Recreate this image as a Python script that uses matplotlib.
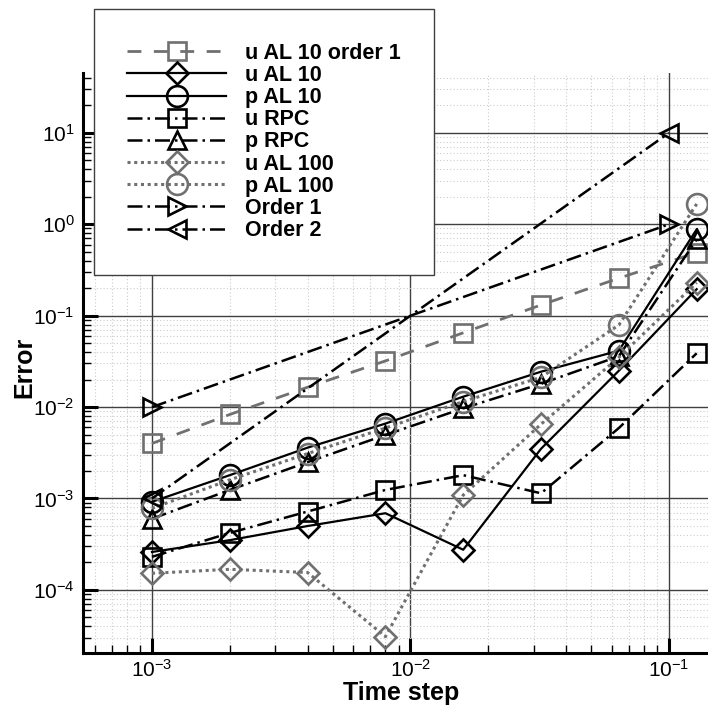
import numpy as np
import matplotlib
matplotlib.use("Agg")
import matplotlib.pyplot as plt
from matplotlib.ticker import LogLocator, NullFormatter

plt.rcParams['font.family'] = ['Liberation Sans', 'DejaVu Sans']
plt.rcParams['mathtext.fontset'] = 'custom'
plt.rcParams['mathtext.rm'] = 'Liberation Sans'
plt.rcParams['mathtext.it'] = 'Liberation Sans:italic'
plt.rcParams['mathtext.bf'] = 'Liberation Sans:bold'
plt.rcParams['mathtext.default'] = 'regular'
plt.rcParams['axes.unicode_minus'] = False

# time steps and error values
dt = [0.001, 0.002, 0.004, 0.008, 0.016, 0.032, 0.064, 0.128]
u_al10_o1 = [4.0e-3, 8.3e-3, 0.0165, 0.032, 0.065, 0.131, 0.257, 0.49]
u_al10 = [2.6e-4, 3.5e-4, 5.0e-4, 6.9e-4, 2.75e-4, 3.5e-3, 0.025, 0.195]
p_al10 = [9.2e-4, 1.8e-3, 3.6e-3, 6.6e-3, 0.013, 0.0244, 0.0414, 0.88]
u_rpc = [2.3e-4, 4.2e-4, 7.2e-4, 1.24e-3, 1.8e-3, 1.14e-3, 5.9e-3, 0.0388]
p_rpc = [6.0e-4, 1.24e-3, 2.5e-3, 4.95e-3, 9.7e-3, 0.018, 0.036, 0.685]
u_al100 = [1.52e-4, 1.68e-4, 1.55e-4, 3.08e-5, 1.09e-3, 6.5e-3, 0.035, 0.23]
p_al100 = [7.8e-4, 1.6e-3, 3.1e-3, 5.9e-3, 0.0115, 0.0212, 0.079, 1.67]
ord_x = [0.001, 0.1]
order1 = [0.01, 1.0]
order2 = [0.001, 10.0]

x_ticks = [1e-3, 1e-2, 1e-1]
y_ticks = [1e-4, 1e-3, 1e-2, 1e-1, 1e0, 1e1]

gray = '#707070'
dashdot = (6, 2, 1, 2)

fig = plt.figure(figsize=(7.08, 7.06), dpi=100)
ax = fig.add_axes([83/708, 1-653/706, 625/708, 580/706])

ax.plot(dt, u_al10_o1, color=gray, lw=2, dashes=(5, 4.5), marker='s', ms=12.5,
        mew=1.9, fillstyle='none', label='u AL 10 order 1')
ax.plot(dt, u_al10, color='k', lw=1.6, ls='-', marker='D', ms=11,
        mew=1.9, fillstyle='none', label='u AL 10')
ax.plot(dt, p_al10, color='k', lw=1.6, ls='-', marker='o', ms=15,
        mew=1.9, fillstyle='none', label='p AL 10')
ax.plot(dt, u_rpc, color='k', lw=1.8, dashes=dashdot, marker='s', ms=12.5,
        mew=1.9, fillstyle='none', label='u RPC')
ax.plot(dt, p_rpc, color='k', lw=1.8, dashes=dashdot, marker='^', ms=13,
        mew=1.9, fillstyle='none', label='p RPC')
ax.plot(dt, u_al100, color=gray, lw=2.2, dashes=(1, 1.2), marker='D', ms=11,
        mew=1.9, fillstyle='none', label='u AL 100')
ax.plot(dt, p_al100, color=gray, lw=2.2, dashes=(1, 1.2), marker='o', ms=15,
        mew=1.9, fillstyle='none', label='p AL 100')
ax.plot(ord_x, order1, color='k', lw=1.8, dashes=dashdot, marker='>', ms=13,
        mew=1.9, fillstyle='none', label='Order 1')
ax.plot(ord_x, order2, color='k', lw=1.8, dashes=dashdot, marker='<', ms=13,
        mew=1.9, fillstyle='none', label='Order 2')

ax.set_xscale('log')
ax.set_yscale('log')
ax.set_xlim(5.41e-4, 0.1416)
ax.set_ylim(2.04e-5, 45.2)

ax.set_xticks(x_ticks)
ax.set_yticks(y_ticks)
ax.xaxis.set_minor_locator(LogLocator(base=10, subs=np.arange(2, 10), numticks=20))
ax.yaxis.set_minor_locator(LogLocator(base=10, subs=np.arange(2, 10), numticks=20))
ax.xaxis.set_minor_formatter(NullFormatter())
ax.yaxis.set_minor_formatter(NullFormatter())

ax.grid(True, which='major', color='#404040', lw=1.0, ls='-')
ax.grid(True, which='minor', color='#cccccc', lw=0.8, ls=(0, (1, 2)))
ax.set_axisbelow(True)

for s in ['top', 'right']:
    ax.spines[s].set_visible(False)
for s in ['left', 'bottom']:
    ax.spines[s].set_linewidth(2.2)

ax.tick_params(which='major', direction='in', length=11, width=2.2,
               labelsize=15, pad=4)
ax.tick_params(axis='y', which='major', pad=6)
ax.tick_params(which='minor', direction='in', length=6, width=1)

ax.set_xlabel('Time step', fontsize=18, fontweight='bold')
ax.set_ylabel('Error', fontsize=18, fontweight='bold')
ax.xaxis.set_label_coords(0.509, -0.048)
ax.yaxis.set_label_coords(-0.074, 0.493)

leg = ax.legend(loc='upper left', bbox_to_anchor=(94/708, 1-9.3/706),
                bbox_transform=fig.transFigure, borderaxespad=0,
                prop={'family': 'Liberation Sans', 'weight': 'bold', 'size': 15.5},
                handlelength=4.6, handletextpad=0.85, labelspacing=0.055,
                borderpad=1.55, numpoints=1, fancybox=False, framealpha=1)
leg.get_frame().set_edgecolor('#404040')
leg.get_frame().set_linewidth(1.0)

fig.savefig('out.png', dpi=100)
